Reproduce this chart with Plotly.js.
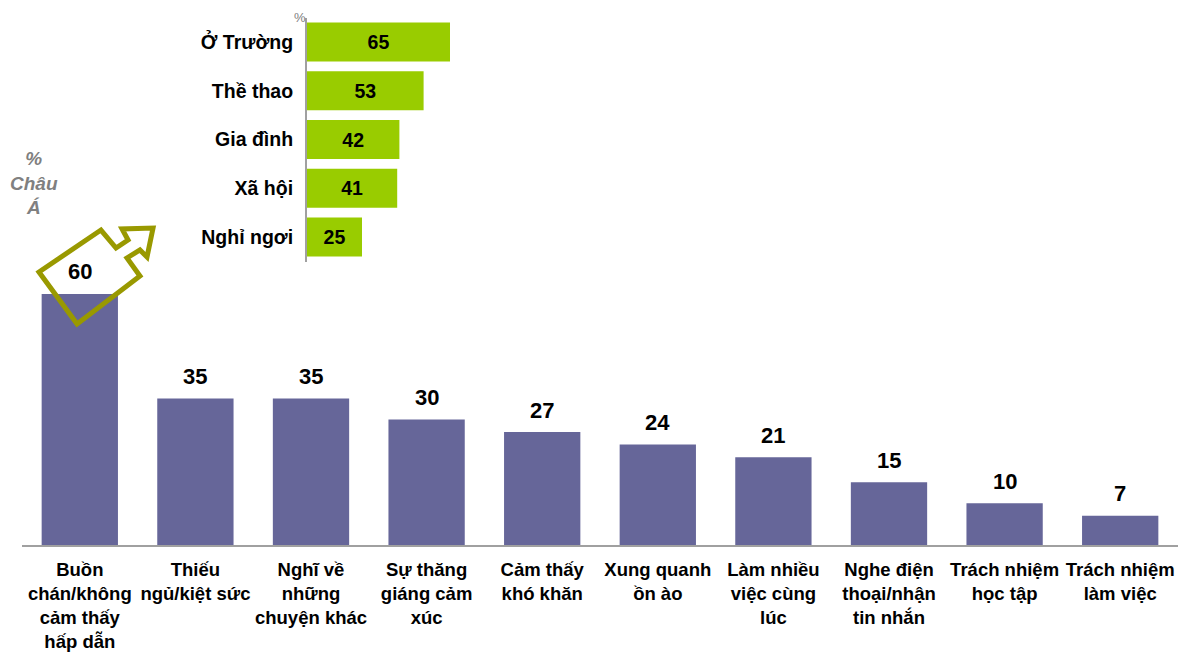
<!DOCTYPE html>
<html>
<head>
<meta charset="utf-8">
<script src="https://cdn.plot.ly/plotly-3.0.1.min.js"></script>
<style>html,body{margin:0;padding:0;background:#fff;}#chart{width:1178px;height:652px;}</style>
</head>
<body>
<div id="chart"></div>
<script>
// Main chart data
const mainCategories = [
  "Buồn<br>chán/không<br>cảm thấy<br>hấp dẫn",
  "Thiếu<br>ngủ/kiệt sức",
  "Nghĩ về<br>những<br>chuyện khác",
  "Sự thăng<br>giáng cảm<br>xúc",
  "Cảm thấy<br>khó khăn",
  "Xung quanh<br>ồn ào",
  "Làm nhiều<br>việc cùng<br>lúc",
  "Nghe điện<br>thoại/nhận<br>tin nhắn",
  "Trách nhiệm<br>học tập",
  "Trách nhiệm<br>làm việc"
];
const mainValues = [60, 35, 35, 30, 27, 24, 21, 15, 10, 7];

// Inset chart data
const insetCategories = ["Ở Trường", "Thề thao", "Gia đình", "Xã hội", "Nghỉ ngơi"];
const insetValues = [65, 53, 42, 41, 25];

const W = 1178, H = 652;
const px = x => x / W;
const py = y => 1 - y / H;

const purple = "#666699";
const green = "#99CC00";
const olive = "#999900";
const FONT = "Liberation Sans, Arial, sans-serif";

const traces = [
  {
    type: "bar",
    x: mainCategories,
    y: mainValues,
    xaxis: "x", yaxis: "y",
    marker: {color: purple},
    width: 0.66,
    hoverinfo: "skip"
  },
  {
    type: "bar",
    orientation: "h",
    y: insetCategories,
    x: insetValues,
    xaxis: "x2", yaxis: "y2",
    marker: {color: green},
    width: 0.8,
    text: insetValues.map(String),
    textposition: "inside",
    insidetextanchor: "middle",
    textangle: 0,
    cliponaxis: false,
    textfont: {family: FONT, size: 19.5, color: "#000", weight: "bold"},
    hoverinfo: "skip"
  }
];

// Arrow outline (decoration), pixel points
const arrowPts = [[39,272],[101,230],[116,248],[128,240],[122,229],[153,228],[147,257],[140,250],[127,258],[140,276],[77,324]];
const arrowPath = "M" + arrowPts.map(p => px(p[0]).toFixed(4) + "," + py(p[1]).toFixed(4)).join(" L") + " Z";

const valueLabels = mainCategories.map((c, i) => ({
  xref: "x", yref: "y", x: c, y: mainValues[i], text: String(mainValues[i]),
  showarrow: false, xanchor: "center", yanchor: "middle", yshift: 22,
  font: {family: FONT, size: 22, color: "#000", weight: "bold"}
}));

const layout = {
  width: W, height: H,
  margin: {l: 0, r: 0, t: 0, b: 0},
  paper_bgcolor: "#fff", plot_bgcolor: "rgba(0,0,0,0)",
  showlegend: false,
  font: {family: FONT, color: "#000"},
  xaxis: {
    domain: [px(22), px(1178)],
    anchor: "y",
    showgrid: false, zeroline: false,
    showline: true, linecolor: "#A0A0A0", linewidth: 2,
    ticks: "", tickangle: 0,
    ticklabelstandoff: 7,
    tickfont: {family: FONT, size: 18.5, color: "#000", weight: "bold"}
  },
  yaxis: {
    domain: [py(545), py(545 - 70 * 251 / 60)],
    range: [0, 70],
    anchor: "x",
    visible: false
  },
  xaxis2: {
    domain: [px(307), px(307 + 220)],
    range: [0, 100],
    anchor: "y2",
    visible: false
  },
  yaxis2: {
    domain: [py(261.5), py(17.5)],
    anchor: "x2",
    autorange: "reversed",
    showgrid: false, zeroline: false,
    showline: true, linecolor: "#A0A0A0", linewidth: 2,
    ticks: "",
    ticklabelstandoff: 8,
    tickfont: {family: FONT, size: 19.5, color: "#000", weight: "bold"}
  },
  shapes: [
    {type: "path", xref: "paper", yref: "paper", path: arrowPath,
     line: {color: olive, width: 5}, fillcolor: "rgba(0,0,0,0)", layer: "above"}
  ],
  annotations: valueLabels.concat([
    {xref: "paper", yref: "paper", x: px(34), y: py(183), text: "%<br>Châu<br>Á",
     showarrow: false, xanchor: "center", yanchor: "middle",
     font: {family: FONT, size: 19, color: "#808080", weight: "bold", style: "italic"}},
    {xref: "paper", yref: "paper", x: px(300), y: py(18), text: "%",
     showarrow: false, xanchor: "center", yanchor: "middle",
     font: {family: FONT, size: 13, color: "#808080"}}
  ])
};

Plotly.newPlot("chart", traces, layout, {staticPlot: true, displayModeBar: false});
</script>
</body>
</html>
